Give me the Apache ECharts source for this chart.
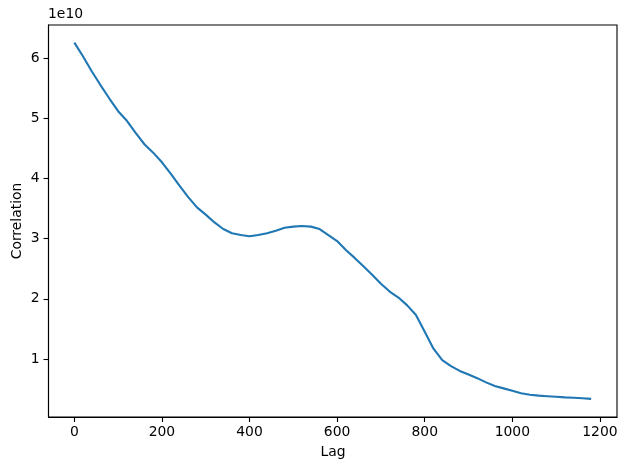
<!DOCTYPE html>
<html>
<head>
<meta charset="utf-8">
<script src="https://cdn.jsdelivr.net/npm/echarts@6/dist/echarts.min.js"></script>
<style>
  html, body { margin: 0; padding: 0; background: #fff; }
  #container { width: 627px; height: 470px; }
</style>
</head>
<body>
<div id="container"></div>
<script>
// lag values and correlation (in units of 1e10)
var lags = [0, 20, 40, 60, 80, 100, 120, 140, 160, 180,
            200, 220, 240, 260, 280, 300, 320, 340, 360, 380,
            400, 420, 440, 460, 480, 500, 520, 540, 560, 580,
            600, 620, 640, 660, 680, 700, 720, 740, 760, 780,
            800, 820, 840, 860, 880, 900, 920, 940, 960, 980,
            1000, 1020, 1040, 1060, 1080, 1100, 1120, 1140, 1160, 1180];
var corr = [6.26, 6.03, 5.78, 5.55, 5.33, 5.12, 4.96, 4.76, 4.57, 4.43,
            4.27, 4.08, 3.88, 3.69, 3.52, 3.40, 3.27, 3.16, 3.09, 3.06,
            3.04, 3.06, 3.09, 3.13, 3.18, 3.20, 3.21, 3.20, 3.16, 3.06,
            2.96, 2.81, 2.68, 2.54, 2.40, 2.25, 2.12, 2.02, 1.89, 1.73,
            1.45, 1.17, 0.98, 0.88, 0.80, 0.74, 0.68, 0.61, 0.55, 0.51,
            0.47, 0.43, 0.405, 0.39, 0.38, 0.37, 0.36, 0.355, 0.345, 0.335];
var xTicks = [0, 200, 400, 600, 800, 1000, 1200];
var yTicks = [1, 2, 3, 4, 5, 6];

var dom = document.getElementById("container");
var myChart = echarts.init(dom, null, { renderer: 'canvas' });

var font = 'DejaVu Sans';
var seriesData = [];
for (var i = 0; i < lags.length; i++) {
    seriesData.push([lags[i], corr[i]]);
}

function plain(v) { return String(v); }

var option = {
    animation: false,
    backgroundColor: '#ffffff',
    textStyle: { fontFamily: font },
    grid: {
        left: 48.5,
        right: 10,
        top: 25,
        bottom: 53,
        show: true,
        borderColor: '#000000',
        borderWidth: 1.1,
        backgroundColor: 'transparent'
    },
    xAxis: {
        type: 'value',
        min: -59,
        max: 1239,
        axisLine: { show: true, onZero: false, lineStyle: { color: '#000', width: 1.1 } },
        splitLine: { show: false },
        axisTick: {
            show: true,
            length: 5,
            customValues: xTicks,
            lineStyle: { color: '#000', width: 1.1 }
        },
        axisLabel: {
            show: true,
            customValues: xTicks,
            formatter: plain,
            margin: 8,
            fontSize: 13.9,
            color: '#000',
            fontFamily: font
        }
    },
    yAxis: {
        type: 'value',
        min: 0.034,
        max: 6.553,
        axisLine: { show: true, onZero: false, lineStyle: { color: '#000', width: 1.1 } },
        splitLine: { show: false },
        axisTick: {
            show: true,
            length: 5,
            customValues: yTicks,
            lineStyle: { color: '#000', width: 1.1 }
        },
        axisLabel: {
            show: true,
            customValues: yTicks,
            formatter: plain,
            margin: 9,
            fontSize: 13.9,
            color: '#000',
            fontFamily: font
        }
    },
    graphic: [
        {
            type: 'text',
            left: 48,
            top: 7,
            style: { text: '1e10', fontSize: 13.9, fill: '#000', fontFamily: font }
        },
        {
            type: 'text',
            x: 333,
            y: 452,
            style: { text: 'Lag', fontSize: 13.9, fill: '#000', fontFamily: font,
                     align: 'center', verticalAlign: 'middle' }
        },
        {
            type: 'text',
            x: 17,
            y: 221,
            rotation: Math.PI / 2,
            style: { text: 'Correlation', fontSize: 13.9, fill: '#000', fontFamily: font,
                     align: 'center', verticalAlign: 'middle' }
        }
    ],
    series: [
        {
            type: 'line',
            data: seriesData,
            showSymbol: false,
            smooth: false,
            lineStyle: { color: '#1f77b4', width: 2.1 },
            itemStyle: { color: '#1f77b4' }
        }
    ]
};

myChart.setOption(option, true);
</script>
</body>
</html>
